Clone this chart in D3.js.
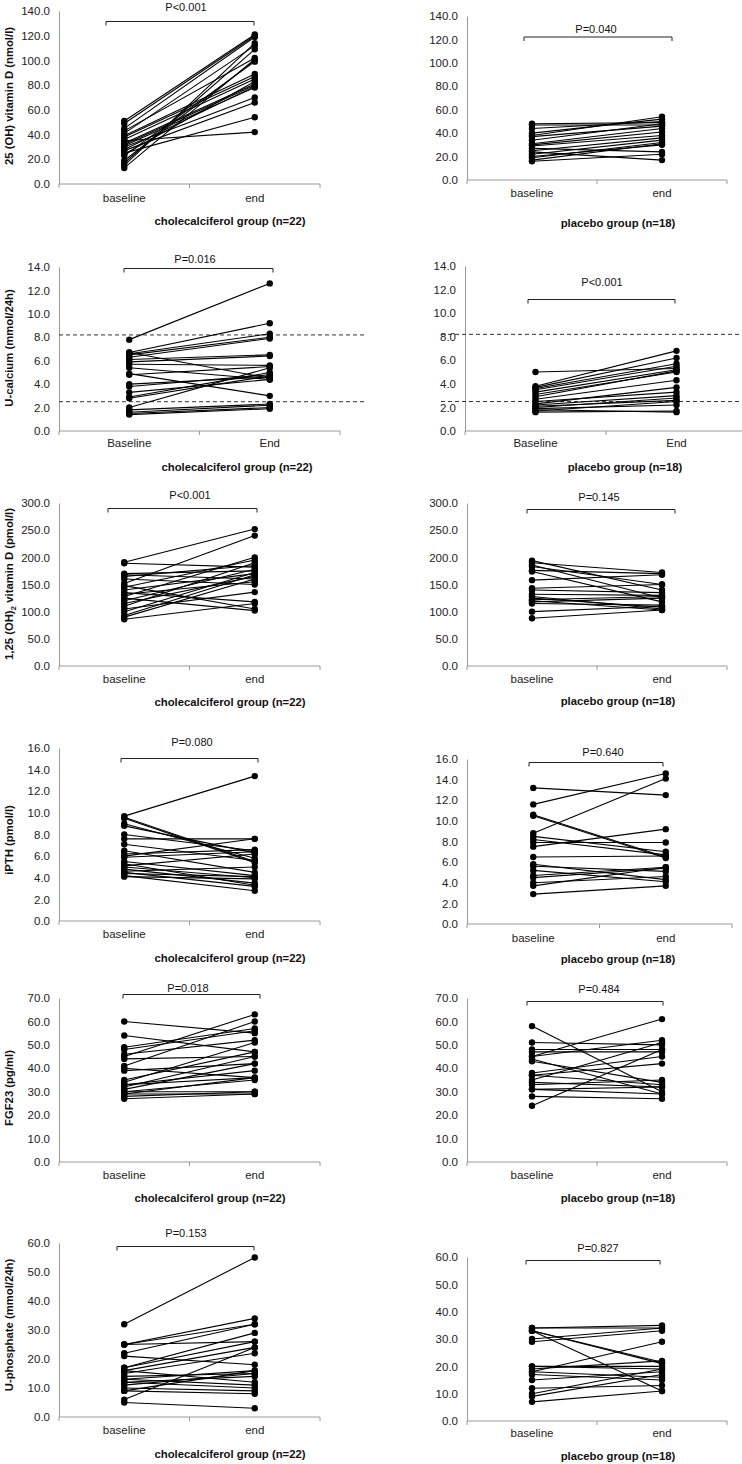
<!DOCTYPE html>
<html><head><meta charset="utf-8">
<script src="https://cdn.jsdelivr.net/npm/d3@7"></script>
<style>body{margin:0;background:#fff} svg{display:block}</style>
</head><body>
<svg id="c" width="742" height="1464"></svg>
<script>
// ---------------- DATA ----------------
const timepoints = ["baseline", "end"];
const timepointsCap = ["Baseline", "End"];
const groupLabels = ["cholecalciferol group (n=22)", "placebo group (n=18)"];
const yTitles = ["25 (OH) vitamin D (nmol/l)", "U-calcium (mmol/24h)", "1,25 (OH)2 vitamin D (pmol/l)",
                 "iPTH (pmol/l)", "FGF23 (pg/ml)", "U-phosphate (mmol/24h)"];
const yMaxes = [140, 14, 300, 16, 70, 60];
const ySteps = [20, 2, 50, 2, 10, 10];
const pValues = ["P<0.001", "P=0.040", "P=0.016", "P<0.001", "P<0.001", "P=0.145",
                 "P=0.080", "P=0.640", "P=0.018", "P=0.484", "P=0.153", "P=0.827"];
const uCalciumRefLines = [8.2, 2.5];

const vitD_chol_base = [51,49,45,43,41,39,38,36,35,33,32,31,30,28,27,25,24,23,19,17,15,13];
const vitD_chol_end  = [121,120,119,102,112,89,87,85,42,81,80,78,70,79,66,54,83,99,100,109,114,101];
const vitD_plac_base = [48,47,44,40,38,37,34,31,30,29,27,25,24,22,20,19,17,16];
const vitD_plac_end  = [49,47,50,52,54,46,48,44,41,38,24,36,17,34,30,32,31,22];

const uCa_chol_base = [7.8,6.7,6.6,6.5,6.3,6.1,5.9,5.7,6.7,5.4,4.9,4.8,4.0,3.8,3.3,2.9,2.8,2.0,1.8,1.6,1.5,1.4];
const uCa_chol_end  = [12.6,9.2,8.3,8.0,7.9,6.5,6.4,5.6,4.5,4.4,3.0,5.5,4.6,4.8,4.4,5.0,4.7,5.4,2.3,2.2,2.0,1.9];
const uCa_plac_base = [5.0,3.8,3.7,3.6,3.5,3.3,3.1,2.9,2.7,2.5,2.3,2.2,2.1,2.0,1.9,1.8,1.7,1.6];
const uCa_plac_end  = [5.3,6.8,6.2,5.7,5.5,5.2,5.0,5.1,4.3,3.3,3.7,3.0,2.6,2.8,2.2,1.6,2.5,1.7];

const d125_chol_base = [191,189,170,168,165,160,152,148,145,140,135,132,128,125,120,115,110,105,100,93,90,86];
const d125_chol_end  = [252,182,175,160,185,150,240,105,195,170,118,155,200,102,178,165,190,136,172,168,160,115];
const d125_plac_base = [194,190,186,183,176,174,158,143,140,132,128,125,122,120,118,115,100,88];
const d125_plac_end  = [140,172,125,150,170,118,168,150,135,130,105,108,128,103,125,112,110,103];

const pth_chol_base = [9.7,9.6,9.5,9.0,8.8,8.0,7.6,7.1,6.5,6.2,6.0,5.9,5.5,5.3,5.1,5.0,4.8,4.6,4.5,4.4,4.2,4.1];
const pth_chol_end  = [13.4,5.5,5.4,5.8,6.3,6.5,7.6,5.6,4.5,6.6,7.6,6.4,4.2,3.3,6.2,4.0,3.5,5.0,3.2,4.1,2.8,3.9];
const pth_plac_base = [13.2,11.6,10.6,10.5,8.8,8.5,8.2,7.9,7.5,6.5,5.8,5.6,5.2,4.7,4.5,4.0,3.7,2.9];
const pth_plac_end  = [12.5,14.6,6.5,6.4,14.1,7.0,6.7,7.9,9.2,6.6,4.3,5.1,4.1,5.5,5.4,4.6,5.5,3.7];

const fgf_chol_base = [60,54,49,48,46,45,44,41,40,39,35,34,33,33,32,31,30,30,29,29,28,27];
const fgf_chol_end  = [55,47,57,56,52,63,45,60,36,42,47,51,39,36,45,42,35,30,36,29,30,29];
const fgf_plac_base = [58,51,48,47,45,45,44,43,38,37,37,35,34,33,31,31,28,24];
const fgf_plac_end  = [30,50,48,47,61,52,29,34,45,42,33,51,32,35,32,29,27,48];

const uP_chol_base = [32,25,25,25,22,21,17,17,16,16,15,14,13,13,12,12,11,10,9,9,6,5];
const uP_chol_end  = [55,34,32,26,32,18,29,26,24,12,22,15,16,11,14,10,15,9,16,8,24,3];
const uP_plac_base = [34,34,33,33,33,30,29,20,20,19,18,18,17,15,12,10,9,7];
const uP_plac_end  = [35,34,21,21.5,11,34,33,20,19,22,29,16,15,18,13,19,17,11];

const seriesBase = [vitD_chol_base, vitD_plac_base, uCa_chol_base, uCa_plac_base, d125_chol_base, d125_plac_base,
                    pth_chol_base, pth_plac_base, fgf_chol_base, fgf_plac_base, uP_chol_base, uP_plac_base];
const seriesEnd  = [vitD_chol_end, vitD_plac_end, uCa_chol_end, uCa_plac_end, d125_chol_end, d125_plac_end,
                    pth_chol_end, pth_plac_end, fgf_chol_end, fgf_plac_end, uP_chol_end, uP_plac_end];

// ---------------- LAYOUT ----------------
const layout = [
 {ax0:59,  ax1:320, yTop:11,   yBot:184,  brY:21.5,   bx0:106, bx1:254, pY:11,   pX:186, tickY:202,  gY:225,  gX:230, ttlY:96},
 {ax0:467, ax1:727, yTop:16,   yBot:180,  brY:37,     bx0:524, bx1:672, pY:33,   pX:596, tickY:197,  gY:227,  gX:618},
 {ax0:59,  ax1:340, yTop:267,  yBot:431,  brY:268.5,  bx0:124, bx1:273, pY:263,  pX:195, tickY:447,  gY:471,  gX:237, ttlY:348, ref:[59,367]},
 {ax0:465, ax1:747, yTop:266,  yBot:431,  brY:299.5,  bx0:528, bx1:675, pY:286,  pX:602, tickY:447,  gY:471,  gX:625, ref:[441,742]},
 {ax0:59,  ax1:320, yTop:503,  yBot:666,  brY:508.5,  bx0:108, bx1:257, pY:499,  pX:190, tickY:683,  gY:706,  gX:230, ttlY:584},
 {ax0:467, ax1:727, yTop:503,  yBot:666,  brY:509.5,  bx0:527, bx1:675, pY:501,  pX:599, tickY:683,  gY:705,  gX:618},
 {ax0:59,  ax1:320, yTop:748,  yBot:921,  brY:758.5,  bx0:121, bx1:258, pY:746,  pX:192, tickY:938,  gY:962,  gX:230, ttlY:840},
 {ax0:467, ax1:732, yTop:759,  yBot:924,  brY:762.5,  bx0:529, bx1:663, pY:756,  pX:603, tickY:942,  gY:963,  gX:618},
 {ax0:59,  ax1:320, yTop:998,  yBot:1162, brY:994.5,  bx0:123, bx1:260, pY:992,  pX:188, tickY:1179, gY:1202, gX:210, ttlY:1088},
 {ax0:467, ax1:727, yTop:998,  yBot:1162, brY:1001.5, bx0:527, bx1:663, pY:993,  pX:599, tickY:1179, gY:1202, gX:618},
 {ax0:59,  ax1:320, yTop:1243, yBot:1417, brY:1246.5, bx0:117, bx1:254, pY:1237, pX:186, tickY:1434, gY:1458, gX:230, ttlY:1325},
 {ax0:467, ax1:727, yTop:1257, yBot:1421, brY:1260.5, bx0:526, bx1:660, pY:1252, pX:598, tickY:1437, gY:1460, gX:618},
];

const FONT = "'Liberation Sans', Arial, Helvetica, sans-serif";
const svg = d3.select("#c");

layout.forEach((L, i) => {
  const row = Math.floor(i / 2), col = i % 2;
  const cats = row === 1 ? timepointsCap : timepoints;
  const g = svg.append("g");

  const x = d3.scaleBand().domain(cats).range([L.ax0, L.ax1]).padding(0);
  const y = d3.scaleLinear().domain([0, yMaxes[row]]).range([L.yBot, L.yTop]);
  const cx = c => x(c) + x.bandwidth() / 2;

  // y axis
  const yAxis = d3.axisLeft(y)
    .tickValues(d3.range(0, yMaxes[row] + ySteps[row] / 2, ySteps[row]))
    .tickFormat(d3.format(".1f")).tickSize(0).tickSizeOuter(0).tickPadding(9);
  const ya = g.append("g").attr("transform", `translate(${L.ax0},0)`).call(yAxis);
  ya.select(".domain").attr("stroke", "#9a9a9a");
  ya.selectAll("text").attr("font-family", FONT).attr("font-size", 11.5).attr("fill", "#222");

  // x axis line with ticks at band edges
  g.append("line").attr("x1", L.ax0).attr("x2", L.ax1).attr("y1", L.yBot).attr("y2", L.yBot)
    .attr("stroke", "#9a9a9a");
  const edges = [x(cats[0]), x(cats[1]), x(cats[1]) + x.bandwidth()];
  g.selectAll(".xt").data(edges).join("line")
    .attr("x1", d => d).attr("x2", d => d).attr("y1", L.yBot).attr("y2", L.yBot + 4)
    .attr("stroke", "#9a9a9a");
  g.selectAll(".xl").data(cats).join("text")
    .attr("x", d => cx(d)).attr("y", L.tickY).attr("text-anchor", "middle")
    .attr("font-family", FONT).attr("font-size", 11.5).attr("fill", "#222").text(d => d);

  // group label
  g.append("text").attr("x", L.gX).attr("y", L.gY).attr("text-anchor", "middle")
    .attr("font-family", FONT).attr("font-size", 11.3).attr("font-weight", "bold").attr("fill", "#111")
    .text(groupLabels[col]);

  // y title
  if (col === 0) {
    const t = g.append("text").attr("transform", `translate(13,${L.ttlY}) rotate(-90)`)
      .attr("text-anchor", "middle").attr("font-family", FONT).attr("font-size", 11.3)
      .attr("font-weight", "bold").attr("fill", "#111");
    if (row === 2) {
      t.append("tspan").text("1,25 (OH)");
      t.append("tspan").attr("font-size", 8).attr("dy", 3).text("2");
      t.append("tspan").attr("dy", -3).text(" vitamin D (pmol/l)");
    } else t.text(yTitles[row]);
  }

  // reference dashed lines
  if (L.ref) {
    g.selectAll(".ref").data(uCalciumRefLines).join("line")
      .attr("x1", L.ref[0]).attr("x2", L.ref[1]).attr("y1", d => y(d)).attr("y2", d => y(d))
      .attr("stroke", "#333").attr("stroke-width", 1).attr("stroke-dasharray", "4,3");
  }

  // bracket + p-value
  g.append("path").attr("d", `M${L.bx0},${L.brY + 4}V${L.brY}H${L.bx1}V${L.brY + 4}`)
    .attr("fill", "none").attr("stroke", "#222").attr("stroke-width", 1);
  g.append("text").attr("x", L.pX).attr("y", L.pY).attr("text-anchor", "middle")
    .attr("font-family", FONT).attr("font-size", 11).attr("fill", "#111").text(pValues[i]);

  // data
  const base = seriesBase[i], end = seriesEnd[i];
  const pairs = base.map((b, k) => [b, end[k]]);
  g.selectAll(".pl").data(pairs).join("line")
    .attr("x1", cx(cats[0])).attr("x2", cx(cats[1]))
    .attr("y1", d => y(d[0])).attr("y2", d => y(d[1]))
    .attr("stroke", "#000").attr("stroke-width", 1.1);
  const pts = pairs.flatMap(d => [[cats[0], d[0]], [cats[1], d[1]]]);
  g.selectAll(".pt").data(pts).join("circle")
    .attr("cx", d => cx(d[0])).attr("cy", d => y(d[1])).attr("r", 3.2).attr("fill", "#000");
});
</script>
</body></html>
